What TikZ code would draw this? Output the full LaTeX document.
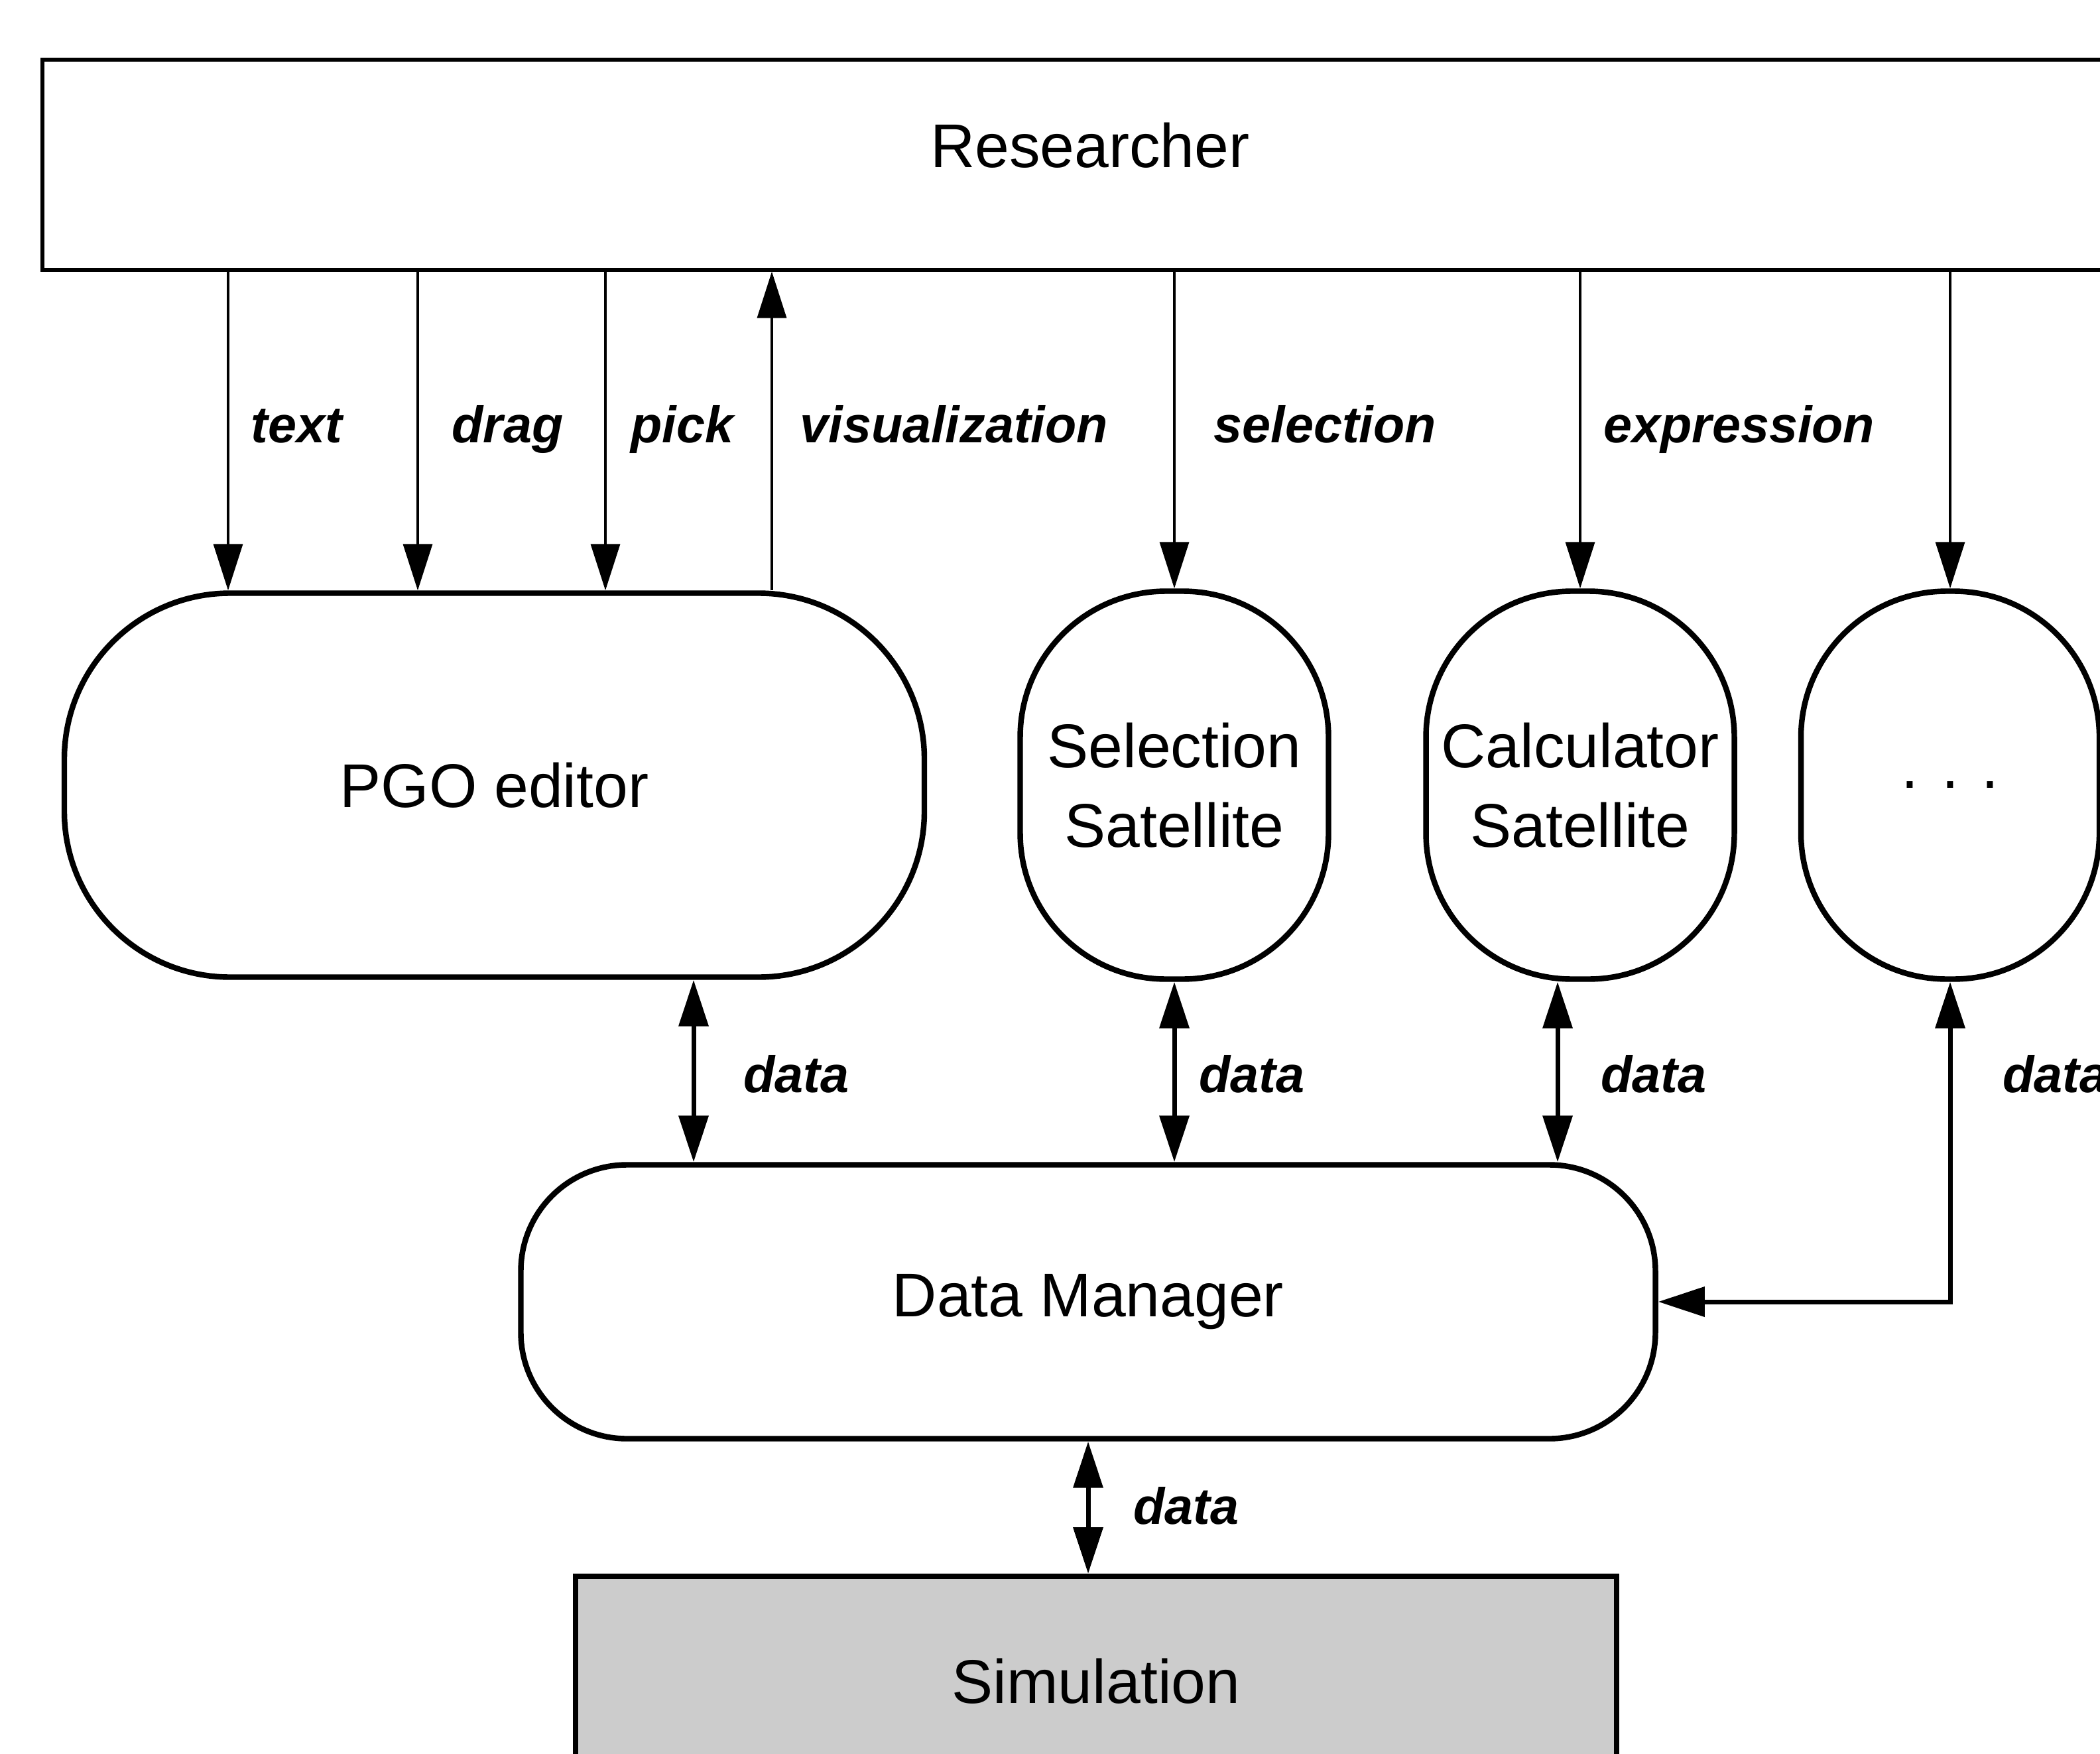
\documentclass[tikz,border=0pt]{standalone}
\usepackage{fontspec}
\setmainfont{Liberation Sans}
\usetikzlibrary{
  arrows.meta,
  calc
}
\tikzset{
  % For the texts inside the components.
  big text/.style={
    font=\fontsize{26.5}{34}\selectfont,
    align=center},
%
  % For rounded components.
  rounded box/.style={
    big text,
    draw,
    line width=2.4pt,
    inner sep=0pt},
%
  % For rectangular components.
  square box/.style={
    big text,
    draw,
    inner sep=0pt},
%
  % For the interaction arrows of the researcher.
  thin arrow/.style={
    line width=1pt,
    -{Triangle[length=7mm,width=4.4mm]}},
%
  % For data exchange, both ways.
  data arrow/.style={
    line width=2pt,
    {Triangle[length=7mm,width=4.4mm]}-{Triangle[length=7mm,width=4.4mm]}},
%
  % For arrow labels.
  description/.style={
    font=\fontsize{22}{26}\selectfont\bfseries\itshape,
    anchor=base west,
    inner sep=0pt},
}

\begin{document}
\begin{tikzpicture}
  \useasboundingbox (0,0) rectangle (31.67,-26.45);

  % The text sits a little above the middle of the box.
  \node[square box, line width=1.6pt, anchor=north west, text depth=0.6cm,
        minimum width=31.6cm, minimum height=3.17cm] (R) at (0.61,-0.87) {Researcher};

  \node[rounded box, rounded corners=2.5cm,
        minimum width=12.97cm, minimum height=5.79cm] (PGO) at (7.455,-11.84) {PGO editor};
  \node[rounded box, rounded corners=2.2cm,
        minimum width=4.65cm, minimum height=5.85cm] (Sel) at (17.71,-11.84) {Selection\\Satellite};
  \node[rounded box, rounded corners=2.2cm,
        minimum width=4.65cm, minimum height=5.85cm] (Calc) at (23.83,-11.84) {Calculator\\Satellite};
  \node[rounded box, rounded corners=2.2cm,
        minimum width=4.5cm, minimum height=5.85cm] (Dots) at (29.41,-11.84) {. . .};

  \node[rounded box, rounded corners=1.6cm,
        minimum width=17.11cm, minimum height=4.13cm] (DM) at (16.41,-19.63) {Data Manager};
  \node[square box, line width=2.4pt, fill=black!20, anchor=north,
        minimum width=15.7cm, minimum height=3.16cm] (Sim) at (16.53,-23.73) {Simulation};

  % x positions of the researcher's arrows, at the height of their labels.
  \coordinate (text) at (3.44,-6.68);
  \coordinate (drag) at (6.30,-6.68);
  \coordinate (pick) at (9.13,-6.68);
  \coordinate (vis) at (11.64,-6.68);

  \draw[thin arrow] (text |- R.south) -- (text |- PGO.north);
  \draw[thin arrow] (drag |- R.south) -- (drag |- PGO.north);
  \draw[thin arrow] (pick |- R.south) -- (pick |- PGO.north);
  \draw[thin arrow] (vis |- PGO.north) -- (vis |- R.south);
  \draw[thin arrow] (R.south -| Sel.north) -- (Sel.north);
  \draw[thin arrow] (R.south -| Calc.north) -- (Calc.north);
  \draw[thin arrow] (R.south -| Dots.north) -- (Dots.north);

  \node[description] at (3.78,-6.68) {text};
  \node[description] at (6.81,-6.68) {drag};
  \node[description] at (9.51,-6.68) {pick};
  \node[description] at (12.06,-6.68) {visualization};
  \node[description] at (18.30,-6.68) {selection};
  \node[description] at (24.18,-6.68) {expression};

  % The data links all end on the Data Manager.
  \coordinate (pgo data) at (10.46,0);
  \coordinate (calc data) at (23.49,0);

  \draw[data arrow] (pgo data |- PGO.south) -- (pgo data |- DM.north);
  \draw[data arrow] (Sel.south) -- (Sel.south |- DM.north);
  \draw[data arrow] (calc data |- Calc.south) -- (calc data |- DM.north);
  \draw[data arrow] (DM.east) -| (Dots.south);
  \draw[data arrow] (DM.south) -- (DM.south |- Sim.north);

  \node[description] at (11.21,-16.47) {data};
  \node[description] at (18.08,-16.47) {data};
  \node[description] at (24.14,-16.47) {data};
  \node[description] at (30.20,-16.47) {data};
  \node[description] at (17.09,-22.98) {data};
\end{tikzpicture}
\end{document}
